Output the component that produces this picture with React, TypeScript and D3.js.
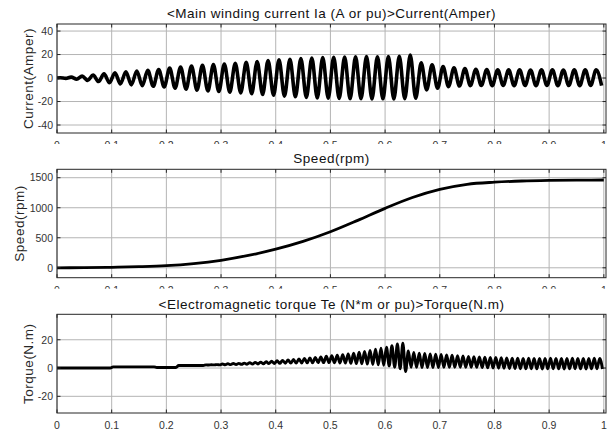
import React from "react";
import * as d3 from "d3";

// ---------- data ----------
const xTicks = [0, 0.1, 0.2, 0.3, 0.4, 0.5, 0.6, 0.7, 0.8, 0.9, 1];
const xTickLabels = ["0", "0.1", "0.2", "0.3", "0.4", "0.5", "0.6", "0.7", "0.8", "0.9", "1"];

// Current: positive peak (t = 0.006 + 0.02k) and negative peak (t = 0.016 + 0.02k) of each 50 Hz cycle
const currentTop = [0.3, 0.8, 1.6, 2.6, 3.5, 4.5, 5.3, 6.0, 6.6, 7.3, 8.4, 9.4, 10.2, 10.8, 11.4, 12.0, 12.6, 13.3, 14.0, 14.8,
  15.5, 16.0, 16.5, 17.0, 17.4, 17.7, 17.9, 18.0, 18.2, 18.0, 18.3, 18.4, 19.6, 12.9, 11.2, 9.7, 8.7, 8.0, 7.5, 7.2,
  7.1, 7.0, 7.1, 6.9, 7.0, 7.1, 6.9, 7.0, 7.1, 7.0];
const currentBottom = [-0.3, -1.0, -2.0, -3.0, -4.0, -5.0, -5.8, -6.5, -7.0, -7.6, -8.6, -9.5, -10.3, -11.0, -11.5, -12.0, -12.6, -13.3, -14.0, -14.6,
  -15.4, -16.0, -16.5, -16.9, -17.2, -17.4, -17.6, -17.6, -17.8, -17.7, -17.8, -17.6, -17.2, -10.1, -8.7, -7.3, -6.8, -6.5, -6.4, -6.5,
  -6.4, -6.5, -6.4, -6.5, -6.4, -6.5, -6.4, -6.5, -6.4, -6.5];
const currentYTicks = [-40, -20, 0, 20, 40];

// Speed (rpm) sampled every 0.05 s
const speedTimes = [0, 0.05, 0.1, 0.15, 0.2, 0.25, 0.3, 0.35, 0.4, 0.45, 0.5, 0.55, 0.6, 0.65, 0.7, 0.75, 0.8, 0.85, 0.9, 0.95, 1.0];
const speedValues = [0, 2, 8, 18, 35, 70, 125, 205, 310, 440, 600, 790, 990, 1170, 1305, 1390, 1425, 1445, 1455, 1460, 1462];
const speedYTicks = [0, 500, 1000, 1500];

// Torque: maximum (t = 0.01i + 0.0025) and minimum (t = 0.01i + 0.0075) of each 100 Hz ripple cycle
const torqueHi = [0, 0, 0, 0, 0, 0, 0, 0, 0, 0,
  0.8, 0.8, 0.8, 0.8, 0.8, 0.8, 0.8, 0.8, 0.4, 0.4,
  0.4, 0.4, 1.8, 1.8, 1.8, 1.8, 1.8, 2.2, 2.3, 2.4,
  2.9, 3.0, 3.2, 3.3, 3.5, 3.8, 4.0, 4.2, 4.5, 4.8,
  5.1, 5.4, 5.7, 6.0, 6.4, 6.7, 7.1, 7.5, 7.9, 8.3,
  8.7, 9.1, 9.5, 10.0, 10.5, 11.2, 11.8, 12.5, 13.3, 14.0,
  14.8, 15.8, 17.0, 17.5, 12.0, 11.0, 10.5, 10.3, 10.0, 9.8,
  9.6, 9.3, 9.1, 8.8, 8.5, 8.2, 8.0, 7.8, 7.6, 7.5,
  7.4, 7.3, 7.2, 7.0, 6.9, 6.8, 6.9, 6.8, 6.7, 6.8,
  6.9, 6.8, 6.7, 6.8, 6.9, 6.8, 6.7, 6.8, 6.9, 6.8];
const torqueLo = [0, 0, 0, 0, 0, 0, 0, 0, 0, 0,
  0.8, 0.8, 0.8, 0.8, 0.8, 0.8, 0.8, 0.8, 0.4, 0.4,
  0.4, 0.4, 1.8, 1.8, 1.8, 1.8, 1.8, 2.1, 2.2, 2.2,
  2.3, 2.4, 2.5, 2.6, 2.7, 2.8, 2.9, 3.0, 3.1, 3.2,
  3.3, 3.4, 3.5, 3.5, 3.6, 3.7, 3.7, 3.8, 3.8, 3.8,
  3.7, 3.6, 3.5, 3.3, 3.1, 3.0, 2.8, 2.5, 2.2, 1.9,
  1.5, 0.6, -0.5, -2.5, 0.5, 0.5, 0.4, 0.4, 0.3, 0.4,
  0.5, 0.5, 0.6, 0.6, 0.6, 0.6, 0.5, 0.3, 0.1, 0.0,
  -0.1, -0.2, -0.3, -0.4, -0.5, -0.6, -0.5, -0.6, -0.7, -0.6,
  -0.5, -0.6, -0.7, -0.6, -0.5, -0.6, -0.7, -0.6, -0.5, -0.6];
const torqueYTicks = [-20, 0, 20];

const titles = [
  "<Main winding current Ia (A or pu)>Current(Amper)",
  "Speed(rpm)",
  "<Electromagnetic torque Te (N*m or pu)>Torque(N.m)",
];
const yLabels = ["Current(Amper)", "Speed(rpm)", "Torque(N.m)"];

// ---------- layout ----------
const W = 613;
const H = 432;
const FONT = "'Liberation Sans', Arial, Helvetica, sans-serif";
const left = 57;
const right = 606;

type Pt = { t: number; v: number };

const currentPts: Pt[] = [{ t: 0, v: 0 }];
currentTop.forEach((v, k) => {
  currentPts.push({ t: 0.006 + 0.02 * k, v });
  currentPts.push({ t: 0.016 + 0.02 * k, v: currentBottom[k] });
});
const speedPts: Pt[] = speedTimes.map((t, i) => ({ t, v: speedValues[i] }));
const torquePts: Pt[] = [{ t: 0, v: 0 }];
torqueHi.forEach((v, i) => {
  torquePts.push({ t: 0.01 * i + 0.0025, v });
  torquePts.push({ t: 0.01 * i + 0.0075, v: torqueLo[i] });
});

const panels = [
  { top: 24, bottom: 133, domain: [-46.8, 46], ticks: currentYTicks, pts: currentPts, titleY: 17.5, yLabelX: 28, sw: 3.6 },
  { top: 169.3, bottom: 277.7, domain: [-165, 1640], ticks: speedYTicks, pts: speedPts, titleY: 163, yLabelX: 19, sw: 2.8 },
  { top: 314.3, bottom: 413, domain: [-31.8, 38], ticks: torqueYTicks, pts: torquePts, titleY: 308.5, yLabelX: 28, sw: 2.9 },
];

const x = d3.scaleLinear().domain([0, 1.004]).range([left, right]);

function Panel({ p, idx }: { p: any; idx: number }) {
  const y = d3.scaleLinear().domain(p.domain).range([p.bottom, p.top]);
  const line = d3
    .line<Pt>()
    .x((d) => x(d.t))
    .y((d) => y(d.v))
    .curve(d3.curveMonotoneX);
  const clipId = `clip${idx}`;
  const tickLen = 3.5;
  const frame = "#262626";
  return (
    <g>
      <defs>
        <clipPath id={clipId}>
          <rect x={left} y={p.top} width={right - left} height={p.bottom - p.top} />
        </clipPath>
      </defs>
      <rect x={left} y={p.top} width={right - left} height={p.bottom - p.top} fill="#fff" />
      {/* grid */}
      {xTicks.map((t) => (
        <line key={"gx" + t} x1={x(t)} x2={x(t)} y1={p.top} y2={p.bottom} stroke="#b4b4b4" strokeWidth={1} />
      ))}
      {p.ticks.map((t: number) => (
        <line key={"gy" + t} x1={left} x2={right} y1={y(t)} y2={y(t)} stroke="#b4b4b4" strokeWidth={1} />
      ))}
      {/* data */}
      <path d={line(p.pts) || ""} fill="none" stroke="#000" strokeWidth={p.sw} strokeLinejoin="round" clipPath={`url(#${clipId})`} />
      {/* ticks */}
      {xTicks.map((t) => (
        <g key={"tx" + t}>
          <line x1={x(t)} x2={x(t)} y1={p.bottom} y2={p.bottom - tickLen} stroke={frame} />
          <line x1={x(t)} x2={x(t)} y1={p.top} y2={p.top + tickLen} stroke={frame} />
        </g>
      ))}
      {p.ticks.map((t: number) => (
        <g key={"ty" + t}>
          <line x1={left} x2={left + tickLen} y1={y(t)} y2={y(t)} stroke={frame} />
          <line x1={right} x2={right - tickLen} y1={y(t)} y2={y(t)} stroke={frame} />
        </g>
      ))}
      <rect x={left} y={p.top} width={right - left} height={p.bottom - p.top} fill="none" stroke={frame} strokeWidth={1} />
      {/* tick labels */}
      {xTicks.map((t, i) => (
        <text key={"lx" + t} x={x(t)} y={p.bottom + 15.8} textAnchor="middle" fontSize={10.5} fill="#333" fontFamily={FONT}>
          {xTickLabels[i]}
        </text>
      ))}
      {p.ticks.map((t: number) => (
        <text key={"ly" + t} x={53} y={y(t)} dy="0.36em" textAnchor="end" fontSize={10.5} fill="#333" fontFamily={FONT}>
          {String(t)}
        </text>
      ))}
    </g>
  );
}

function Header({ p, idx }: { p: any; idx: number }) {
  const cy = (p.top + p.bottom) / 2;
  return (
    <g>
      <text x={(left + right) / 2} y={p.titleY} textAnchor="middle" fontSize={13.5} letterSpacing={0.5} fill="#111" fontFamily={FONT}>
        {titles[idx]}
      </text>
      <text
        transform={`translate(${p.yLabelX},${cy}) rotate(-90)`}
        textAnchor="middle"
        dy="0.36em"
        fontSize={13.5}
        letterSpacing={0.5}
        fill="#262626"
        fontFamily={FONT}
      >
        {yLabels[idx]}
      </text>
    </g>
  );
}

export default function App() {
  return (
    <svg width={W} height={H} style={{ position: "absolute", left: 0, top: 0, background: "#fff" }}>
      <rect x={0} y={0} width={W} height={H} fill="#fff" />
      {panels.map((p, i) => (
        <g key={i}>
          {/* each subplot hides the overflowing tick labels of the one above */}
          {i > 0 && <rect x={0} y={panels[i - 1].bottom + 11} width={W} height={p.top - panels[i - 1].bottom - 11} fill="#fff" />}
          <Panel p={p} idx={i} />
          <Header p={p} idx={i} />
        </g>
      ))}
    </svg>
  );
}
